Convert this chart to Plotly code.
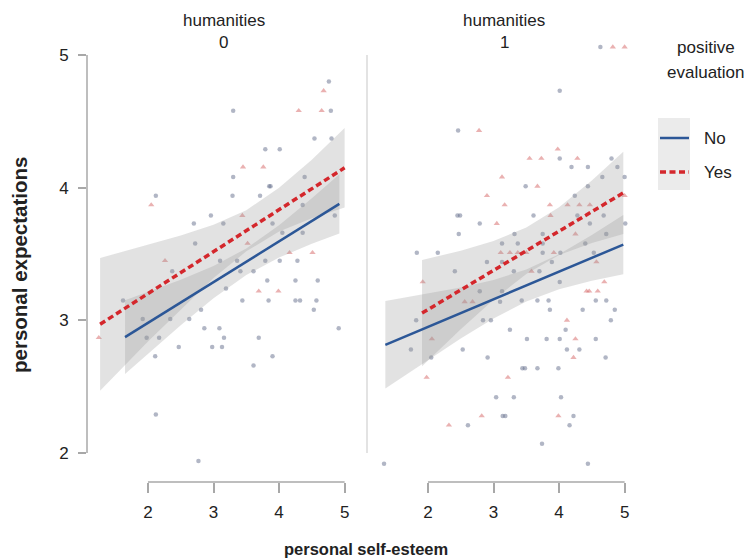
import plotly.graph_objects as go

W, H = 745, 559

# ---------------- data ----------------
# facet humanities = 0
h0_no_x = [4.76, 3.30, 4.79, 4.54, 4.80, 3.79, 4.01, 4.39, 3.30, 3.85, 3.87, 2.12, 3.29, 3.71, 2.96, 2.70, 3.15,
           4.36, 4.85, 3.90, 2.72, 4.05, 4.36, 3.10, 3.36, 3.79, 4.01, 4.28, 2.37, 3.41, 3.61, 1.62, 3.82, 4.25,
           4.59, 3.44, 3.84, 4.25, 4.32, 4.57, 4.53, 3.19, 2.81, 1.92, 2.34, 2.63, 1.98, 2.17, 2.86, 3.09, 3.16,
           3.69, 4.91, 2.47, 2.98, 3.13, 2.11, 3.90, 3.61, 2.12, 2.77]
h0_no_y = [4.80, 4.58, 4.58, 4.37, 4.37, 4.29, 4.29, 4.08, 4.08, 4.01, 4.01, 3.94, 3.94, 3.94, 3.79, 3.73, 3.73,
           3.87, 3.79, 3.73, 3.58, 3.66, 3.66, 3.45, 3.45, 3.45, 3.45, 3.45, 3.37, 3.37, 3.37, 3.15, 3.30, 3.30,
           3.30, 3.15, 3.15, 3.15, 3.15, 3.15, 3.08, 3.24, 3.08, 3.01, 3.01, 3.01, 2.87, 2.87, 2.94, 2.94, 2.87,
           2.87, 2.94, 2.80, 2.80, 2.80, 2.73, 2.73, 2.66, 2.29, 1.94]
h0_yes_x = [4.68, 4.30, 4.65, 3.45, 3.76, 2.05, 3.44, 3.52, 4.16, 4.51, 2.26, 3.69, 3.99, 1.25]
h0_yes_y = [4.73, 4.58, 4.58, 4.155, 4.155, 3.87, 3.79, 3.58, 3.51, 3.51, 3.45, 3.22, 3.22, 2.87]

# facet humanities = 1
h1_no_x = [4.01, 2.46, 4.01, 4.80, 4.19, 4.44, 4.89, 4.66, 5.00, 3.49, 4.44, 4.24, 2.45, 2.49, 3.61, 4.28, 2.79,
           5.01, 2.47, 3.32, 3.75, 4.72, 1.83, 2.15, 3.13, 3.37, 3.75, 3.75, 4.02, 4.53, 2.41, 2.90, 3.89, 3.70,
           4.01, 4.56, 4.72, 4.85, 4.36, 3.86, 3.67, 3.84, 3.43, 3.13, 2.79, 1.82, 2.84, 2.96, 4.79, 3.25, 4.10,
           1.74, 2.53, 3.51, 3.81, 4.01, 4.56, 4.12, 4.31, 2.05, 2.91, 4.71, 3.44, 3.48, 3.67, 3.99, 3.04, 3.31,
           4.03, 3.14, 3.18, 4.22, 2.61, 4.16, 4.44, 4.63, 3.13, 3.31, 3.10, 4.40, 4.68, 4.47, 3.74, 1.33]
h1_no_y = [4.73, 4.43, 4.22, 4.22, 4.155, 4.155, 4.155, 4.08, 4.08, 4.01, 4.01, 3.94, 3.79, 3.79, 3.79, 3.79, 3.73,
           3.73, 3.65, 3.65, 3.65, 3.65, 3.51, 3.51, 3.58, 3.58, 3.58, 3.51, 3.51, 3.51, 3.37, 3.44, 3.44, 3.37,
           3.29, 3.15, 3.15, 3.08, 3.08, 3.08, 3.15, 3.15, 3.15, 3.22, 3.22, 3.00, 3.00, 3.00, 3.00, 2.93, 2.93,
           2.78, 2.78, 2.86, 2.86, 2.86, 2.86, 2.78, 2.78, 2.72, 2.72, 2.72, 2.64, 2.64, 2.64, 2.64, 2.42, 2.42,
           2.42, 2.28, 2.28, 2.28, 2.21, 2.21, 1.92, 5.06, 3.44, 3.37, 3.14, 3.58, 3.79, 3.73, 2.07, 1.92]
h1_yes_x = [2.78, 3.98, 3.55, 3.73, 4.28, 3.13, 3.67, 2.90, 3.17, 3.86, 4.13, 4.31, 4.47, 3.87, 3.05, 4.25, 3.11,
            3.25, 3.37, 3.50, 3.92, 3.58, 4.57, 5.00, 1.92, 4.69, 4.42, 4.46, 4.59, 4.12, 2.06, 4.25, 4.22, 1.98,
            3.22, 2.82, 3.99, 2.32, 4.82, 5.00, 2.56, 2.68]
h1_yes_y = [4.43, 4.29, 4.22, 4.22, 4.22, 4.08, 4.01, 3.94, 3.87, 3.87, 3.87, 3.87, 3.87, 3.79, 3.73, 3.65, 3.51,
            3.51, 3.51, 3.51, 3.51, 3.37, 3.44, 3.94, 3.29, 3.29, 3.22, 3.22, 3.22, 3.00, 2.86, 2.86, 2.72, 2.57,
            2.57, 2.28, 2.28, 2.21, 5.06, 5.06, 3.14, 3.14]

# fitted lines and confidence bands
h0_no_fx = [1.65, 2.0, 2.5, 3.0, 3.5, 4.0, 4.5, 4.92]
h0_no_fy = [2.874, 2.981, 3.135, 3.288, 3.442, 3.595, 3.749, 3.878]
h0_no_lo = [2.596, 2.748, 2.963, 3.166, 3.342, 3.473, 3.577, 3.655]
h0_no_hi = [3.152, 3.214, 3.307, 3.410, 3.542, 3.717, 3.921, 4.101]
h0_yes_fx = [1.27, 2.0, 2.5, 3.0, 3.5, 4.0, 4.5, 5.0]
h0_yes_fy = [2.971, 3.202, 3.360, 3.518, 3.676, 3.834, 3.992, 4.150]
h0_yes_lo = [2.47, 2.84, 3.08, 3.32, 3.52, 3.67, 3.77, 3.85]
h0_yes_hi = [3.47, 3.57, 3.64, 3.72, 3.83, 4.00, 4.21, 4.45]
h1_no_fx = [1.35, 2.0, 2.5, 3.0, 3.5, 4.0, 4.5, 4.98]
h1_no_fy = [2.816, 2.951, 3.055, 3.159, 3.263, 3.367, 3.471, 3.571]
h1_no_lo = [2.486, 2.702, 2.863, 3.014, 3.142, 3.235, 3.299, 3.347]
h1_no_hi = [3.146, 3.200, 3.247, 3.304, 3.384, 3.499, 3.643, 3.795]
h1_yes_fx = [1.91, 2.5, 3.0, 3.5, 4.0, 4.5, 4.98]
h1_yes_fy = [3.055, 3.229, 3.377, 3.524, 3.672, 3.819, 3.961]
h1_yes_lo = [2.655, 2.933, 3.156, 3.349, 3.492, 3.584, 3.651]
h1_yes_hi = [3.455, 3.525, 3.598, 3.699, 3.852, 4.054, 4.271]

x_ticks = [2, 3, 4, 5]
y_ticks = [2, 3, 4, 5]
facet_labels = ["humanities<br>0", "humanities<br>1"]
legend_title = "positive<br>evaluation"
legend_labels = ["No", "Yes"]

# ---------------- styling ----------------
FONT = "Liberation Sans, Arial, Helvetica, sans-serif"
TXT = "#222222"
AX = "#a8a8a8"
BLUE = "#2c5797"
RED = "#d4272c"
PT_NO = "rgba(100,110,140,0.5)"
PT_YES = "rgba(214,100,100,0.5)"
RIB = "rgba(150,150,150,0.28)"
FS = 17


def px(x):
    return x / W


def py(y):
    return 1 - y / H


XR = [1.07, 5.25]
YR = [1.88, 5.1]
dom1 = [px(87), px(361)]
dom2 = [px(367), px(641)]
ydom = [py(469), py(41.7)]
xpos = py(482)

fig = go.Figure()

panels = [
    ("x", "y", h0_no_x, h0_no_y, h0_yes_x, h0_yes_y,
     (h0_no_fx, h0_no_fy, h0_no_lo, h0_no_hi), (h0_yes_fx, h0_yes_fy, h0_yes_lo, h0_yes_hi)),
    ("x2", "y2", h1_no_x, h1_no_y, h1_yes_x, h1_yes_y,
     (h1_no_fx, h1_no_fy, h1_no_lo, h1_no_hi), (h1_yes_fx, h1_yes_fy, h1_yes_lo, h1_yes_hi)),
]

for xa, ya, nx, ny, yx, yy, nofit, yesfit in panels:
    fig.add_trace(go.Scatter(x=nx, y=ny, mode="markers", xaxis=xa, yaxis=ya, showlegend=False,
                             marker=dict(symbol="circle", size=4.5, color=PT_NO, line=dict(width=0))))
    fig.add_trace(go.Scatter(x=yx, y=yy, mode="markers", xaxis=xa, yaxis=ya, showlegend=False,
                             marker=dict(symbol="triangle-up", size=5.5, color=PT_YES, line=dict(width=0))))
    for fx, fy, lo, hi in (nofit, yesfit):
        fig.add_trace(go.Scatter(x=list(fx) + list(fx)[::-1], y=list(hi) + list(lo)[::-1], mode="lines",
                                 fill="toself", fillcolor=RIB, line=dict(width=0),
                                 xaxis=xa, yaxis=ya, showlegend=False, hoverinfo="skip"))
    fx, fy, lo, hi = nofit
    fig.add_trace(go.Scatter(x=fx, y=fy, mode="lines", xaxis=xa, yaxis=ya, showlegend=False,
                             line=dict(color=BLUE, width=2.5)))
    fx, fy, lo, hi = yesfit
    fig.add_trace(go.Scatter(x=fx, y=fy, mode="lines", xaxis=xa, yaxis=ya, showlegend=False,
                             line=dict(color=RED, width=3.5, dash="6px,3.5px")))

xcommon = dict(range=XR, showgrid=False, zeroline=False, showline=False, anchor="free", position=xpos,
               tickvals=x_ticks, ticks="outside", ticklen=10, tickwidth=1.5, tickcolor=AX,
               tickfont=dict(family=FONT, size=FS, color=TXT), ticklabelstandoff=5)
ycommon = dict(range=YR, domain=ydom, showgrid=False, zeroline=False, showline=False)

fig.update_layout(
    width=W, height=H,
    margin=dict(l=0, r=0, t=0, b=0),
    plot_bgcolor="white", paper_bgcolor="white",
    font=dict(family=FONT, color=TXT),
    xaxis=dict(domain=dom1, **xcommon),
    xaxis2=dict(domain=dom2, **xcommon),
    yaxis=dict(anchor="x", tickvals=y_ticks, ticks="outside", ticklen=8, tickwidth=1.5, tickcolor=AX,
               tickfont=dict(family=FONT, size=FS, color=TXT), ticklabelstandoff=6, **ycommon),
    yaxis2=dict(anchor="x2", matches="y", showticklabels=False, ticks="", **ycommon),
    showlegend=False,
)

shapes = []
# range-frame axis lines
for xa, ya in (("x", "y"), ("x2", "y2")):
    shapes.append(dict(type="line", xref=xa, yref="paper", x0=2, x1=5, y0=xpos, y1=xpos,
                       line=dict(color=AX, width=1.5)))
shapes.append(dict(type="line", xref="x domain", yref="y", x0=0, x1=0, y0=2, y1=5,
                   line=dict(color=AX, width=1.5)))
shapes.append(dict(type="line", xref="x2 domain", yref="y2", x0=0, x1=0, y0=2, y1=5,
                   line=dict(color="#d0d0d0", width=1.2)))
# legend keys
shapes.append(dict(type="rect", xref="paper", yref="paper", x0=px(658), x1=px(690), y0=py(190), y1=py(118),
                   fillcolor="#ebebeb", line=dict(width=0)))
shapes.append(dict(type="line", xref="paper", yref="paper", x0=px(660), x1=px(689), y0=py(138), y1=py(138),
                   line=dict(color=BLUE, width=2.5)))
shapes.append(dict(type="line", xref="paper", yref="paper", x0=px(660), x1=px(689), y0=py(172), y1=py(172),
                   line=dict(color=RED, width=3.5, dash="6px,3.5px")))
fig.update_layout(shapes=shapes)

ann = []
for lab, dom in zip(facet_labels, (dom1, dom2)):
    top, bot = lab.split("<br>")
    c = (dom[0] + dom[1]) / 2
    ann.append(dict(text=top, x=c, y=py(20), xref="paper", yref="paper", showarrow=False,
                    xanchor="center", yanchor="middle", font=dict(size=FS, color=TXT, family=FONT)))
    ann.append(dict(text=bot, x=c, y=py(43), xref="paper", yref="paper", showarrow=False,
                    xanchor="center", yanchor="middle", font=dict(size=FS, color=TXT, family=FONT)))
ann.append(dict(text="<b>personal self-esteem</b>", x=px(366), y=py(549), xref="paper", yref="paper",
                showarrow=False, xanchor="center", yanchor="middle", font=dict(size=16.5, color=TXT, family=FONT)))
ann.append(dict(text="<b>personal expectations</b>", x=px(19), y=py(265), xref="paper", yref="paper",
                showarrow=False, xanchor="center", yanchor="middle", textangle=-90,
                font=dict(size=20.5, color=TXT, family=FONT)))
lt1, lt2 = legend_title.split("<br>")
ann.append(dict(text=lt1, x=px(706), y=py(47), xref="paper", yref="paper", showarrow=False,
                xanchor="center", yanchor="middle", font=dict(size=FS, color=TXT, family=FONT)))
ann.append(dict(text=lt2, x=px(706), y=py(73), xref="paper", yref="paper", showarrow=False,
                xanchor="center", yanchor="middle", font=dict(size=FS, color=TXT, family=FONT)))
for lab, yy in zip(legend_labels, (138, 172)):
    ann.append(dict(text=lab, x=px(702), y=py(yy), xref="paper", yref="paper", showarrow=False,
                    xanchor="left", yanchor="middle", font=dict(size=FS, color=TXT, family=FONT)))
fig.update_layout(annotations=ann)

fig.write_html("out.html")
